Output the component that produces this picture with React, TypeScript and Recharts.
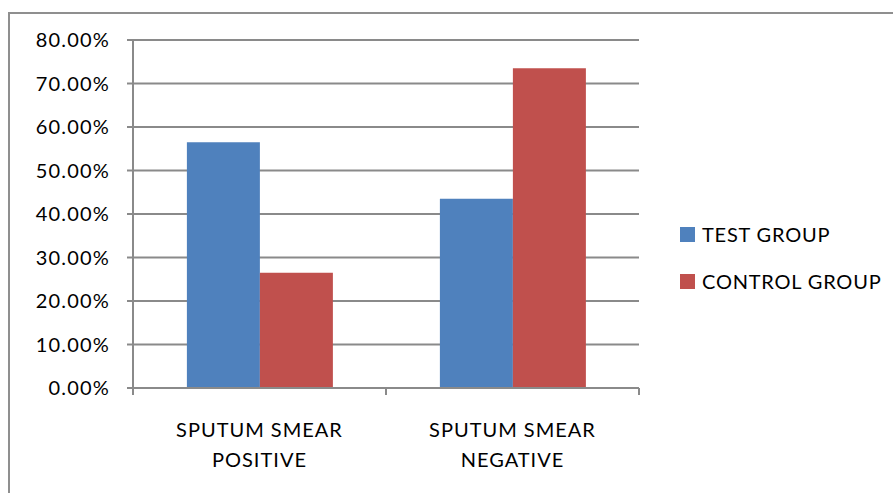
import { BarChart, Bar, XAxis, YAxis, CartesianGrid, Legend } from "recharts";

const categories = ["SPUTUM SMEAR\nPOSITIVE", "SPUTUM SMEAR\nNEGATIVE"];
const testGroup = [0.565, 0.435];
const controlGroup = [0.265, 0.735];
const yTicks = [0, 0.1, 0.2, 0.3, 0.4, 0.5, 0.6, 0.7, 0.8];

const series = [
  { key: "test", name: "TEST GROUP", color: "#4F81BD", values: testGroup },
  { key: "control", name: "CONTROL GROUP", color: "#C0504D", values: controlGroup }
];

const data = categories.map((c, i) => ({
  category: c,
  test: testGroup[i],
  control: controlGroup[i]
}));

const FONT = "Lato, 'Open Sans', sans-serif";
const AXIS = "#8a8a8a";

function CategoryTick(props: any) {
  const { x, y, payload, index } = props;
  const half = payload.offset || 0;
  const lines = String(payload.value).split("\n");
  return (
    <g>
      <line x1={x - half} x2={x - half} y1={y} y2={y + 7} stroke={AXIS} strokeWidth={2} />
      {index === categories.length - 1 && (
        <line x1={x + half} x2={x + half} y1={y} y2={y + 7} stroke={AXIS} strokeWidth={2} />
      )}
      <text x={x} y={y} textAnchor="middle" fill="#000" fontSize={20} fontFamily={FONT} letterSpacing={1}>
        {lines.map((l, i) => (
          <tspan key={i} x={x} dy={i === 0 ? 49 : 30}>
            {l}
          </tspan>
        ))}
      </text>
    </g>
  );
}

function LegendBox() {
  return (
    <div style={{ fontFamily: FONT, fontSize: 20, color: "#000", letterSpacing: 0.8 }}>
      {series.map((s, i) => (
        <div
          key={s.key}
          style={{ display: "flex", alignItems: "center", height: 20, marginBottom: i === 0 ? 27 : 0 }}
        >
          <span style={{ width: 15, height: 15, background: s.color, display: "inline-block", marginRight: 7 }} />
          <span style={{ whiteSpace: "nowrap" }}>{s.name}</span>
        </div>
      ))}
    </div>
  );
}

export default function App() {
  return (
    <div style={{ position: "absolute", left: 0, top: 0, width: 893, height: 493, background: "#fff", overflow: "hidden" }}>
      <div
        style={{
          position: "absolute",
          left: 8,
          top: 12,
          width: 920,
          height: 520,
          borderLeft: "2px solid #8f8f8f",
          borderTop: "2px solid #8f8f8f"
        }}
      />
      <BarChart
        width={893}
        height={493}
        data={data}
        margin={{ top: 40, right: 254, bottom: 0, left: 0 }}
        barCategoryGap="21.3%"
        barGap={0}
        style={{ position: "absolute", left: 0, top: 0 }}
      >
        <CartesianGrid vertical={false} stroke={AXIS} strokeWidth={2} />
        <XAxis
          dataKey="category"
          axisLine={{ stroke: AXIS, strokeWidth: 2 }}
          tickLine={false}
          tickSize={0}
          tickMargin={0}
          interval={0}
          height={105}
          tick={<CategoryTick />}
        />
        <YAxis
          width={133}
          domain={[0, 0.8]}
          ticks={yTicks}
          interval={0}
          tickFormatter={(v: number) => (v * 100).toFixed(2) + "%"}
          axisLine={{ stroke: AXIS, strokeWidth: 2 }}
          tickLine={{ stroke: AXIS, strokeWidth: 2 }}
          tickSize={6}
          tickMargin={17}
          tick={{ fill: "#000", fontSize: 20, fontFamily: FONT, letterSpacing: 1.2 }}
        />
        <Legend
          layout="horizontal"
          align="center"
          verticalAlign="middle"
          content={<LegendBox />}
          wrapperStyle={{ left: 680, top: 224, width: 210, height: 70 }}
        />
        {series.map((s) => (
          <Bar key={s.key} dataKey={s.key} name={s.name} fill={s.color} isAnimationActive={false} />
        ))}
      </BarChart>
    </div>
  );
}
